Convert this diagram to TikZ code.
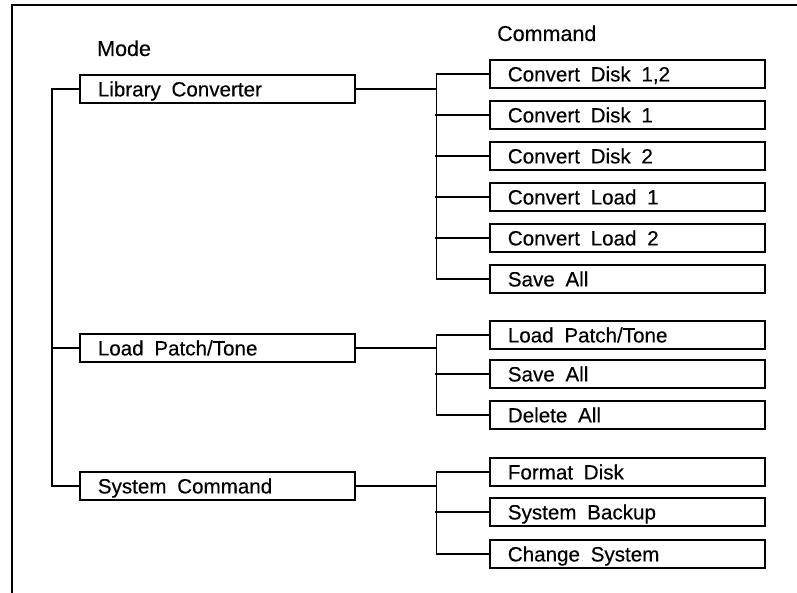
\documentclass[tikz,border=0pt]{standalone}
\usepackage{fontspec}
\setmainfont{Liberation Sans}[BoldFont={Liberation Sans}, BoldFeatures={FakeBold=0.35}]
\newcommand\diagfont{\fontsize{20.6}{24}\bfseries\spaceskip=0.52em plus 0.1em\relax}
\newcommand\headfont{\fontsize{21.5}{26}\bfseries}
\newcommand\mb[1]{\makebox[239pt][l]{#1}}
\begin{document}
\begin{tikzpicture}[x=1pt,y=-1pt,
  modebox/.style={draw, font=\diagfont, line width=1.7pt, inner xsep=18pt, inner ysep=0pt, minimum height=28pt, text depth=0pt, text height=14.8pt, anchor=west},
  conn/.style={line width=1.5pt},
  head/.style={font=\headfont, anchor=base west, inner sep=0pt}]
\useasboundingbox (0,0) rectangle (797,593);
\coordinate (fb) at (12,593);
\coordinate (fc) at (12,5);
\coordinate (fr) at (797,5);
\draw[line width=1.7pt] (fb) -- (fc) -- (fr);
\node[head] (hmode) at (97,56) {Mode};
\node[head] (hcmd) at (497,41) {Command};
% mode boxes
\node[modebox] (m1) at (79,89) {\mb{Library Converter}};
\node[modebox] (m2) at (79,348) {\mb{Load Patch/Tone}};
\node[modebox] (m3) at (79,486) {\mb{System Command}};
% command boxes
\node[modebox] (c1) at (489,74) {\mb{Convert Disk 1,2}};
\node[modebox] (c2) at (489,115) {\mb{Convert Disk 1}};
\node[modebox] (c3) at (489,156) {\mb{Convert Disk 2}};
\node[modebox] (c4) at (489,197) {\mb{Convert Load 1}};
\node[modebox] (c5) at (489,238) {\mb{Convert Load 2}};
\node[modebox] (c6) at (489,279) {\mb{Save All}};
\node[modebox] (d1) at (489,335) {\mb{Load Patch/Tone}};
\node[modebox] (d2) at (489,374) {\mb{Save All}};
\node[modebox] (d3) at (489,415) {\mb{Delete All}};
\node[modebox] (e1) at (489,472) {\mb{Format Disk}};
\node[modebox] (e2) at (489,512) {\mb{System Backup}};
\node[modebox] (e3) at (489,554) {\mb{Change System}};
% left trunk
\draw[conn] (m1.west) -- ++(-27,0) |- (m3.west);
\draw[conn] (m2.west) -- ++(-27,0);
% branches
\draw[conn] (m1.east) -- ++(81,0) coordinate (j1);
\draw[conn] (c1.west) -| (j1) |- (c6.west);
\foreach \n in {c2,c3,c4,c5} \draw[conn] (\n.west) -- ++(-54,0);
\draw[conn] (m2.east) -- ++(81,0) coordinate (j2);
\draw[conn] (d1.west) -| (j2) |- (d3.west);
\draw[conn] (d2.west) -- ++(-54,0);
\draw[conn] (m3.east) -- ++(81,0) coordinate (j3);
\draw[conn] (e1.west) -| (j3) |- (e3.west);
\draw[conn] (e2.west) -- ++(-54,0);
\end{tikzpicture}
\end{document}
